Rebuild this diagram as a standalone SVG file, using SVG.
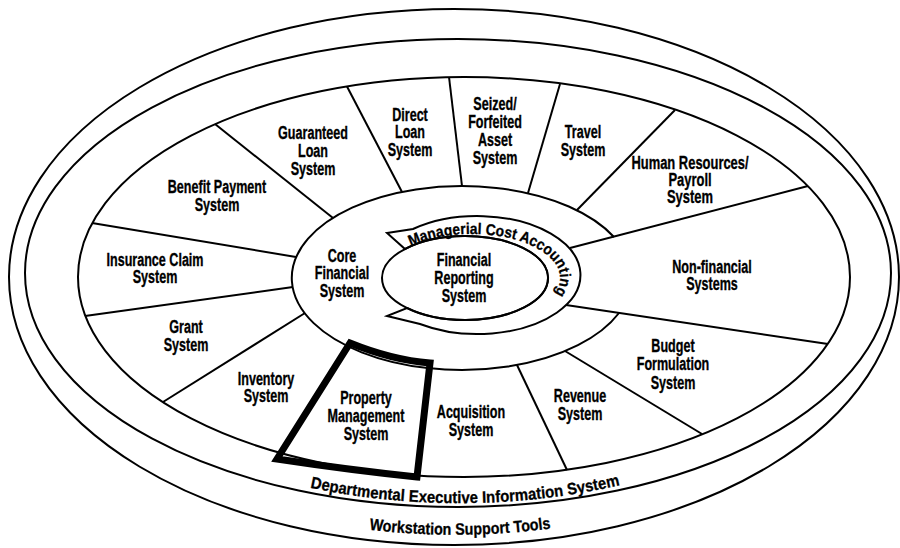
<svg xmlns="http://www.w3.org/2000/svg" width="900" height="548" viewBox="0 0 900 548">
<defs>
<style>
.ln{fill:none;stroke:#000;stroke-width:2}
.lbl{font-family:"Liberation Sans",Arial,sans-serif;font-weight:bold;font-size:18.5px;text-anchor:middle;fill:#000;stroke:#000;stroke-width:0.35}
.arc{font-family:"Liberation Sans",Arial,sans-serif;font-weight:bold;fill:#000;stroke:#000;stroke-width:0.3}
</style>
<path id="pMCA" d="M404.6,249.7 A88,44 0 1 1 539.4,306.3"/>
<path id="pDEIS" d="M290,483 A410,226 0 0 0 640,480"/>
<path id="pWST" d="M330,524 A436,259 0 0 0 590,522"/>
</defs>
<rect width="900" height="548" fill="#fff"/>
<g id="wheel">
<ellipse class="ln" cx="454" cy="277" rx="445" ry="268"/>
<ellipse class="ln" cx="458" cy="273" rx="433" ry="234"/>
<ellipse class="ln" cx="464" cy="277" rx="386" ry="200"/>
<path class="ln" d="M614,237 A170,92 0 1 0 619,313"/>
<path class="ln" fill="#fff" d="M387,233 L413,229 A103,59 0 1 1 420,324 L387,316 L407,308 A83,42 0 1 0 405,249 Z"/>
<ellipse class="ln" cx="465" cy="278" rx="83" ry="42"/>
</g>
<g id="connectors" class="ln">
<line x1="215" y1="124" x2="333" y2="218"/>
<line x1="347" y1="86.5" x2="402" y2="192"/>
<line x1="449" y1="77" x2="462" y2="186"/>
<line x1="560" y1="84" x2="528" y2="193"/>
<line x1="675" y1="110" x2="577" y2="210"/>
<line x1="808" y1="186" x2="570" y2="248"/>
<line x1="828" y1="344" x2="566" y2="305"/>
<line x1="702" y1="434" x2="565" y2="351"/>
<line x1="567" y1="470" x2="517" y2="365"/>
<line x1="163" y1="402" x2="305" y2="313"/>
<line x1="85" y1="316" x2="293" y2="287"/>
<line x1="92" y1="223" x2="296" y2="257"/>
</g>
<g id="property-management-system">
<path d="M350,343 Q392,360 430,363 L417,477 Q350,470 277,459 Z" fill="none" stroke="#000" stroke-width="7" stroke-linejoin="miter"/>
<text class="lbl" transform="translate(366,404) scale(0.68,1)"><tspan x="0" y="0">Property</tspan><tspan x="0" y="18">Management</tspan><tspan x="0" y="36">System</tspan></text>
</g>
<g id="guaranteed-loan-system"><text class="lbl" transform="translate(313,139) scale(0.68,1)"><tspan x="0" y="0">Guaranteed</tspan><tspan x="0" y="18">Loan</tspan><tspan x="0" y="36">System</tspan></text></g>
<g id="direct-loan-system"><text class="lbl" transform="translate(410,121) scale(0.68,1)"><tspan x="0" y="0">Direct</tspan><tspan x="0" y="17.5">Loan</tspan><tspan x="0" y="35">System</tspan></text></g>
<g id="seized-forfeited-asset-system"><text class="lbl" transform="translate(495,110) scale(0.68,1)"><tspan x="0" y="0">Seized/</tspan><tspan x="0" y="18">Forfeited</tspan><tspan x="0" y="36">Asset</tspan><tspan x="0" y="54">System</tspan></text></g>
<g id="travel-system"><text class="lbl" transform="translate(583,138) scale(0.68,1)"><tspan x="0" y="0">Travel</tspan><tspan x="0" y="18">System</tspan></text></g>
<g id="human-resources-payroll-system"><text class="lbl" transform="translate(690,169) scale(0.7,1)"><tspan x="0" y="0">Human Resources/</tspan><tspan x="0" y="17">Payroll</tspan><tspan x="0" y="34">System</tspan></text></g>
<g id="benefit-payment-system"><text class="lbl" transform="translate(217,193) scale(0.68,1)"><tspan x="0" y="0">Benefit Payment</tspan><tspan x="0" y="18">System</tspan></text></g>
<g id="insurance-claim-system"><text class="lbl" transform="translate(155,266) scale(0.68,1)"><tspan x="0" y="0">Insurance Claim</tspan><tspan x="0" y="17">System</tspan></text></g>
<g id="non-financial-systems"><text class="lbl" transform="translate(712,273) scale(0.68,1)"><tspan x="0" y="0">Non-financial</tspan><tspan x="0" y="17">Systems</tspan></text></g>
<g id="grant-system"><text class="lbl" transform="translate(186,333) scale(0.68,1)"><tspan x="0" y="0">Grant</tspan><tspan x="0" y="18">System</tspan></text></g>
<g id="inventory-system"><text class="lbl" transform="translate(266,385) scale(0.68,1)"><tspan x="0" y="0">Inventory</tspan><tspan x="0" y="17">System</tspan></text></g>
<g id="acquisition-system"><text class="lbl" transform="translate(471,418) scale(0.68,1)"><tspan x="0" y="0">Acquisition</tspan><tspan x="0" y="18">System</tspan></text></g>
<g id="revenue-system"><text class="lbl" transform="translate(580,402) scale(0.68,1)"><tspan x="0" y="0">Revenue</tspan><tspan x="0" y="18">System</tspan></text></g>
<g id="budget-formulation-system"><text class="lbl" transform="translate(673,352) scale(0.68,1)"><tspan x="0" y="0">Budget</tspan><tspan x="0" y="18.5">Formulation</tspan><tspan x="0" y="37">System</tspan></text></g>
<g id="core-financial-system"><text class="lbl" transform="translate(342,262) scale(0.68,1)"><tspan x="0" y="0">Core</tspan><tspan x="0" y="17.5">Financial</tspan><tspan x="0" y="35">System</tspan></text></g>
<g id="financial-reporting-system"><text class="lbl" transform="translate(464,266) scale(0.68,1)"><tspan x="0" y="0">Financial</tspan><tspan x="0" y="18">Reporting</tspan><tspan x="0" y="36">System</tspan></text></g>
<g id="managerial-cost-accounting"><text class="arc" font-size="15.5"><textPath href="#pMCA" startOffset="7" textLength="186" lengthAdjust="spacingAndGlyphs">Managerial Cost Accounting</textPath></text></g>
<g id="departmental-executive-information-system"><text class="arc" font-size="16.5" text-anchor="middle"><textPath href="#pDEIS" startOffset="50%" textLength="312" lengthAdjust="spacingAndGlyphs">Departmental Executive Information System</textPath></text></g>
<g id="workstation-support-tools"><text class="arc" font-size="16.5" text-anchor="middle"><textPath href="#pWST" startOffset="50%" textLength="182" lengthAdjust="spacingAndGlyphs">Workstation Support Tools</textPath></text></g>
</svg>
